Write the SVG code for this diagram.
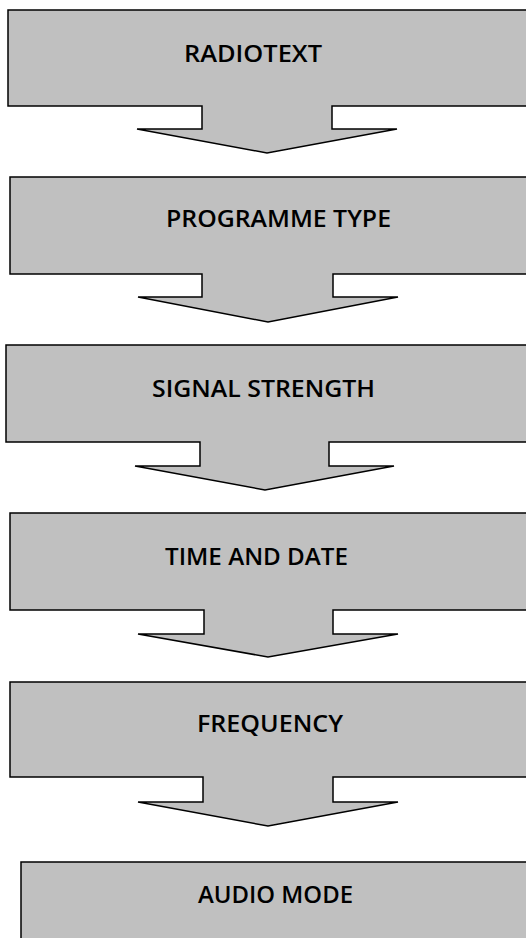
<svg xmlns="http://www.w3.org/2000/svg" width="526" height="938" viewBox="0 0 526 938">
<style>
.shape{fill:#c0c0c0;stroke:#000;stroke-width:1.5;stroke-linejoin:miter}
.lbl{font-family:"Open Sans","Liberation Sans",sans-serif;font-weight:600;font-size:23.5px;fill:#000}
</style>
<rect width="526" height="938" fill="#fff"/>
<g id="node-radiotext">
<path class="shape" d="M8,10 H530 V106 H332 V129 H397 L267,153 L137,129 H202 V106 H8 Z"/>
<text class="lbl" x="184" y="62" textLength="138" lengthAdjust="spacingAndGlyphs">RADIOTEXT</text>
</g>
<g id="node-programme-type">
<path class="shape" d="M10,177 H530 V274 H333 V297 H398 L268,322 L138,297 H202 V274 H10 Z"/>
<text class="lbl" x="166" y="227" textLength="225" lengthAdjust="spacingAndGlyphs">PROGRAMME TYPE</text>
</g>
<g id="node-signal-strength">
<path class="shape" d="M6,345 H530 V442 H329 V466 H394 L265,490 L135,466 H200 V442 H6 Z"/>
<text class="lbl" x="152" y="397" textLength="223" lengthAdjust="spacingAndGlyphs">SIGNAL STRENGTH</text>
</g>
<g id="node-time-and-date">
<path class="shape" d="M10,513 H530 V610 H333 V634 H398 L268,657 L138,634 H204 V610 H10 Z"/>
<text class="lbl" x="165" y="565" textLength="183" lengthAdjust="spacingAndGlyphs">TIME AND DATE</text>
</g>
<g id="node-frequency">
<path class="shape" d="M10,682 H530 V777 H333 V802 H398 L268,826 L138,802 H203 V777 H10 Z"/>
<text class="lbl" x="197" y="732" textLength="146" lengthAdjust="spacingAndGlyphs">FREQUENCY</text>
</g>
<g id="node-audio-mode">
<path class="shape" d="M21,862 H530 V945 H21 Z"/>
<text class="lbl" x="198" y="903" textLength="155" lengthAdjust="spacingAndGlyphs">AUDIO MODE</text>
</g>
<g id="connectors"/>
</svg>
